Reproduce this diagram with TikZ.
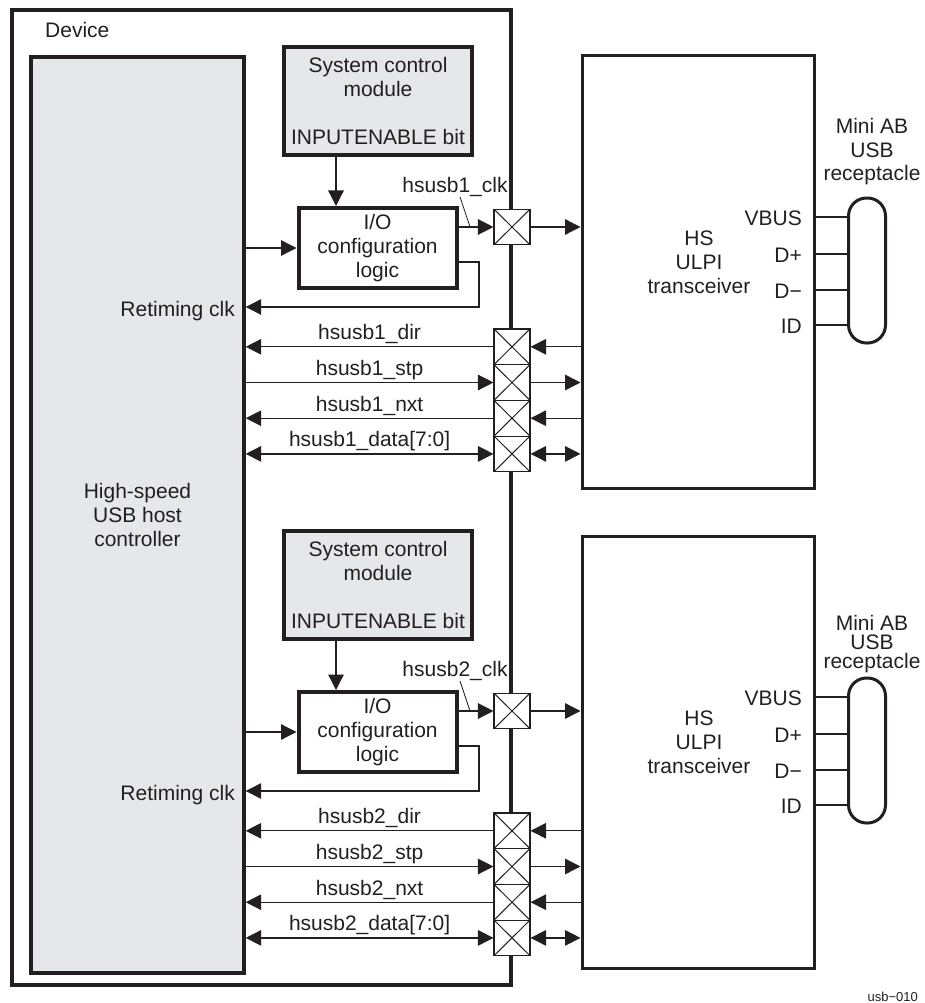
\documentclass[tikz,border=0pt]{standalone}
\usepackage{fontspec}
\setmainfont{Liberation Sans}
\usetikzlibrary{arrows.meta, calc}
\definecolor{ink}{HTML}{231F20}
\definecolor{panelgrey}{HTML}{E6E7E8}
\tikzset{
    every node/.style={font=\fontsize{21}{24}\selectfont, text=ink, inner sep=0pt, align=center},
    block/.style={draw=ink, line width=3pt},
    greyblock/.style={block, fill=panelgrey},
    padcell/.style={draw=ink, line width=1.1pt, fill=white, minimum width=36pt, minimum height=35.7pt,
        path picture={\draw[ink, line width=1pt]
            (path picture bounding box.north west) -- (path picture bounding box.south east)
            (path picture bounding box.north east) -- (path picture bounding box.south west);}},
    wire/.style={draw=ink, line width=1.3pt},
    bigtip/.style={>={Triangle[length=15.5pt,width=15.5pt]}},
    goright/.style={wire, bigtip, ->},
    goleft/.style={wire, bigtip, <-},
    goboth/.style={wire, bigtip, <->},
    siglabel/.style={midway, anchor=base, yshift=7pt},
}
\begin{document}
\begin{tikzpicture}[x=1pt, y=-1pt]
    \useasboundingbox (0,0) rectangle (925,1003);
    \node[block, line width=3.6pt, minimum width=499pt, minimum height=975pt] (device) at (261.5,497.5) {};
    \node[anchor=base west] (devicelabel) at (45,38) {Device};
    \node[greyblock, line width=3.4pt, minimum width=213pt, minimum height=916pt] (ctrl) at (137.5,515) {High-speed\\USB host\\controller};
    \foreach \n/\dy/\dt/\lead/\mini in {1/0/0/23.5/152, 2/484/480/19/644} {
        \node[greyblock, line width=4pt, minimum width=188pt, minimum height=108pt] (sys\n) at (378,101+\dy) {System control\\module\\[24pt]INPUTENABLE bit};
        \node[block, line width=4pt, minimum width=158pt, minimum height=80pt] (io\n) at (377.5,248+\dy) {I/O\\configuration\\logic};
        \node[block, minimum width=232pt, minimum height=432pt] (tr\n) at (698,272+\dt) {};
        \node (trlabel\n) at (699,262+\dt) {HS\\ULPI\\transceiver};
        \node[block, rounded corners=18pt, minimum width=37pt, minimum height=145pt] (conn\n) at (867,270.5+\dt) {};
        \node[font=\fontsize{21}{\lead}\selectfont] (connlabel\n) at (872,\mini) {Mini AB\\USB\\receptacle};
        \node[padcell] (clkcell\n) at (512,227+\dy) {};
        \node[anchor=base east] (retime\n) at (235,316+\dy) {Retiming clk};
        \node (clklabel\n) at (455,187+\dy) {hsusb\n\_clk};
        \coordinate (sysout\n) at (336,155+\dy);
        \coordinate (leader\n) at (460,197+\dy);
        \coordinate (tap\n) at (470,227+\dy);
        \coordinate (retimeA\n) at (479,262+\dy);
        \coordinate (retimeB\n) at (479,307+\dy);
        \draw[goright] (sysout\n) -- (sysout\n |- io\n.north);
        \draw[goright] (ctrl.east |- io\n.west) -- (io\n.west);
        \draw[goright] (io\n.east |- clkcell\n.west) -- (clkcell\n.west);
        \draw[goright] (clkcell\n.east) -- (tr\n.west |- clkcell\n.east);
        \draw[wire, line width=0.8pt] (leader\n) -- (tap\n);
        \draw[goleft] (ctrl.east |- retimeB\n) -- (retimeB\n) -- (retimeA\n) -- (io\n.east |- retimeA\n);
        \foreach \m/\i/\tipstyle/\sigtext in {dir/0/goleft/dir, stp/1/goright/stp, nxt/2/goleft/nxt, data/3/goboth/data[7:0]} {
            \node[padcell] (cell\n\m) at (512,346.8+\i*35.7+\dy) {};
            \draw[\tipstyle] (ctrl.east |- cell\n\m.west) -- node[siglabel] (label\n\m) {hsusb\n\_\sigtext} (cell\n\m.west);
            \draw[\tipstyle] (cell\n\m.east) -- (tr\n.west |- cell\n\m.east);
        }
        \foreach \m/\pinname/\py in {vbus/VBUS/217, dp/D+/254, dm/D−/290, id/ID/325} {
            \node[anchor=base east] (pin\n\m) at (802,\py+\dt+8.5) {\pinname};
            \coordinate (pinrow\n\m) at (848,\py+\dt);
            \draw[wire] (tr\n.east |- pinrow\n\m) -- (conn\n.west |- pinrow\n\m);
        }
    }
    \node[font=\fontsize{13}{15}\selectfont, anchor=base east] (figtag) at (918,1001) {usb−010};
\end{tikzpicture}
\end{document}
